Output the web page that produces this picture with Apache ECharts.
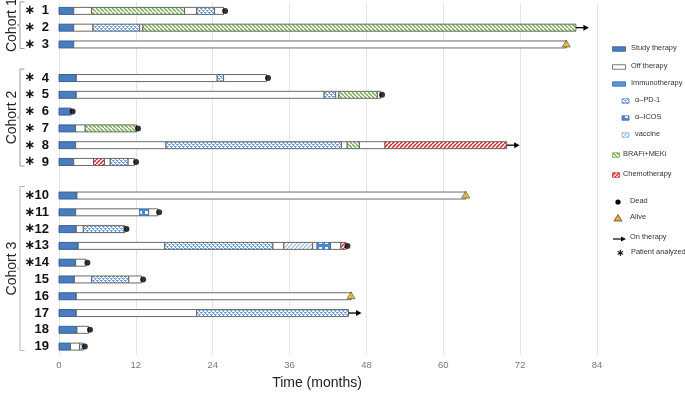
<!DOCTYPE html>
<html><head><meta charset="utf-8">
<script src="https://cdn.jsdelivr.net/npm/echarts@6/dist/echarts.min.js"></script>
<style>html,body{margin:0;padding:0;background:#fff}#c{width:685px;height:395px}</style>
</head><body><div id="c"></div>
<script>
// ---------- DATA ----------
const categories = ['1','2','3','gapA','4','5','6','7','8','9','gapB','10','11','12','13','14','15','16','17','18','19'];
const analyzed = ['1','2','3','4','5','6','7','8','9','10','11','12','13','14'];
const patients = ['1','2','3','4','5','6','7','8','9','10','11','12','13','14','15','16','17','18','19'];
// S=study therapy, O=off therapy, P=α-PD-1, I=α-ICOS, V=vaccine, B=BRAFi+MEKi, C=chemotherapy
const breaks = [
  [0,2.3,5.1,19.6,21.5,24.3,25.7],
  [0,2.3,5.3,12.6,13.1,80.7],
  [0,2.3,79.2],
  [0,2.7,24.7,25.7,32.4],
  [0,2.7,41.4,43.2,43.7,49.7,50.2],
  [0,1.9],
  [0,2.6,4.1,12.1],
  [0,2.6,16.7,44.1,45.0,46.9,50.9,69.9],
  [0,2.3,5.4,7.1,8.0,10.8,11.8],
  [0,2.8,63.5],
  [0,2.6,12.6,14.0,15.4],
  [0,2.7,3.8,10.3],
  [0,3.0,16.5,33.4,35.1,39.6,40.3,42.4,44.0,44.8],
  [0,2.6,4.2],
  [0,2.4,5.1,10.9,12.9],
  [0,2.7,45.6],
  [0,2.7,21.5,45.2],
  [0,2.8,4.6],
  [0,1.8,3.2,3.8]
];
const kinds = [
  ['S','O','B','O','P','O'],
  ['S','O','P','O','B'],
  ['S','O'],
  ['S','O','P','O'],
  ['S','O','P','O','B','O'],
  ['S'],
  ['S','O','B'],
  ['S','O','P','O','B','O','C'],
  ['S','O','C','O','P','O'],
  ['S','O'],
  ['S','O','I','O'],
  ['S','O','P'],
  ['S','O','P','O','V','O','I','O','C'],
  ['S','O'],
  ['S','O','P','O'],
  ['S','O'],
  ['S','O','P'],
  ['S','O'],
  ['S','O','P']
];
const outcomes = ['dead','on','alive','dead','dead','dead','dead','on','dead','alive','dead','dead','dead','dead','dead','alive','on','dead','dead'];
const cohortNames = ['Cohort 1','Cohort 2','Cohort 3'];
const cohortFirst = ['1','4','10'];
const cohortLast = ['3','9','19'];
const xMin = 0, xMax = 84, xStep = 12;

// ---------- PATTERNS ----------
function tile(w, h, draw){ const c=document.createElement('canvas'); c.width=w; c.height=h; const g=c.getContext('2d'); draw(g,w,h); return {image:c, repeat:'repeat'}; }
function diag(color, bg, dir, lw, n){
  return tile(n,n,(g,w,h)=>{ g.fillStyle=bg; g.fillRect(0,0,w,h); g.strokeStyle=color; g.lineWidth=lw;
    for(const x0 of [-n,0,n]){ g.beginPath(); if(dir>0){g.moveTo(x0,n);g.lineTo(x0+n,0);}else{g.moveTo(x0,0);g.lineTo(x0+n,n);} g.stroke(); } });
}
const fills = {
  S: '#4a7cc0',
  O: '#ffffff',
  P: tile(4,4,(g)=>{ g.fillStyle='#ffffff'; g.fillRect(0,0,4,4); g.fillStyle='#6a9fdc'; g.fillRect(0,0,2,1); g.fillRect(1,1,1,1); g.fillRect(2,2,2,1); g.fillRect(3,3,1,1); g.fillStyle='#a3c4ec'; g.fillRect(0,2,1,1); g.fillRect(2,0,1,1);}),
  I: tile(6,6,(g)=>{ g.fillStyle='#4f88cf'; g.fillRect(0,0,6,6); g.fillStyle='#ffffff'; g.fillRect(1,1,3,3); }),
  V: diag('#8fb6e4','#ffffff',1,1.1,4),
  B: diag('#72ad4a','#ffffff',-1,1.3,4),
  C: diag('#d82424','#ffffff',1,1.5,4)
};
const strokes = { S:'#2f5a8f', O:'#5a5a5a', P:'#5a5a5a', I:'#3d6fae', V:'#5a5a5a', B:'#5a5a5a', C:'#5a5a5a' };

// ---------- BUILD SERIES DATA ----------
const segData = [], deadData = [], aliveData = [], onData = [];
patients.forEach((p, i) => {
  const row = categories.indexOf(p);
  const b = breaks[i], k = kinds[i];
  for (let j = 0; j < k.length; j++) segData.push([row, b[j], b[j+1], k[j]]);
  const end = b[b.length-1];
  if (outcomes[i]==='dead') deadData.push([end, row]);
  else if (outcomes[i]==='alive') aliveData.push([end, row]);
  else onData.push([end, row]);
});
const bracketData = cohortNames.map((n, i) => [categories.indexOf(cohortFirst[i]), categories.indexOf(cohortLast[i]), i]);

const chart = echarts.init(document.getElementById('c'), null, {renderer:'canvas'});
const FONT = 'Liberation Sans, Arial, Helvetica, sans-serif';

const legendItems = [];
function lgText(x, y, t){ legendItems.push({type:'text', left:x, top:y-4.5, style:{text:t, font:'7.4px '+FONT, fill:'#333'}}); }
function lgRect(x, y, w, h, fill, stroke){ legendItems.push({type:'rect', shape:{x:x, y:y-h/2, width:w, height:h}, style:{fill:fill, stroke:stroke, lineWidth:0.8}}); }
lgRect(612.5,49,13,4.5,fills.S,strokes.S); lgText(631,49,'Study therapy');
lgRect(612.5,67,13,4.5,fills.O,'#555'); lgText(631,67,'Off therapy');
lgRect(612.5,84,13,4.5,'#5a93d6','#3f6fae'); lgText(631,84,'Immunotherapy');
lgRect(622,101,7,4.5,fills.P,'#4f88cf'); lgText(635,101,'α–PD-1');
lgRect(622,118,7,4.5,fills.I,'#3d6fae'); lgText(635,118,'α–ICOS');
lgRect(622,135,7,4.5,fills.V,'#8fb6e4'); lgText(635,135,'vaccine');
lgRect(612.5,155,7,4.5,fills.B,'#72ad4a'); lgText(623,155,'BRAFi+MEKi');
lgRect(612.5,175,7,4.5,fills.C,'#d82424'); lgText(623,175,'Chemotherapy');
legendItems.push({type:'circle', shape:{cx:618, cy:202, r:2.6}, style:{fill:'#000'}}); lgText(630,202,'Dead');
legendItems.push({type:'polygon', shape:{points:[[618,214.5],[614,221],[622,221]]}, style:{fill:'#f2b01e', stroke:'#333', lineWidth:0.7}}); lgText(630,218,'Alive');
legendItems.push({type:'line', shape:{x1:613, y1:239, x2:622, y2:239}, style:{stroke:'#000', lineWidth:1.2}});
legendItems.push({type:'polygon', shape:{points:[[626,239],[621,236.5],[621,241.5]]}, style:{fill:'#000'}}); lgText(630,238,'On therapy');
legendItems.push({type:'text', left:616, top:248, style:{text:'∗', font:'bold 10px DejaVu Sans', fill:'#111'}}); lgText(631,253,'Patient analyzed');

chart.setOption({
  animation:false,
  grid:{left:59, right:88, top:2.5, bottom:35.5, containLabel:false},
  xAxis:{type:'value', min:xMin, max:xMax, interval:xStep,
    axisLine:{show:false}, axisTick:{show:false},
    axisLabel:{color:'#777', fontSize:9.5, fontFamily:FONT, margin:5},
    splitLine:{show:true, lineStyle:{color:'#e4e4e4', width:1}},
    name:'Time (months)', nameLocation:'middle', nameGap:21,
    nameTextStyle:{fontSize:14, color:'#222', fontFamily:FONT, padding:[0,22,0,0]}},
  yAxis:{type:'category', data:categories, inverse:true,
    axisLine:{show:false}, axisTick:{show:false}, splitLine:{show:false},
    axisLabel:{margin:10, formatter:function(v){ if(v.indexOf('gap')===0) return ''; return (analyzed.indexOf(v)>=0 ? '{a|∗}' : '{a|}') + '{n|'+v+'}'; },
      rich:{a:{width:10, align:'center', fontFamily:'DejaVu Sans', fontWeight:'bold', fontSize:13, color:'#111'},
            n:{width:14, align:'right', fontFamily:FONT, fontWeight:'bold', fontSize:13, color:'#111'}}}},
  graphic: legendItems,
  series:[
    {type:'custom', name:'segments', data:segData, encode:{y:0, x:[1,2]}, z:3, clip:false,
      renderItem:function(params, api){
        const r = api.value(0), a = api.coord([api.value(1), r]), b = api.coord([api.value(2), r]);
        const k = segData[params.dataIndex][3]; const h = 7;
        return {type:'rect', shape:{x:a[0], y:a[1]-h/2, width:b[0]-a[0], height:h},
          style:{fill:fills[k], stroke:strokes[k], lineWidth:0.9}};
      }},
    {type:'scatter', name:'Dead', data:deadData, symbol:'circle', symbolSize:6, symbolOffset:[1.5,0], itemStyle:{color:'#000'}, z:5},
    {type:'scatter', name:'Alive', data:aliveData, symbol:'triangle', symbolSize:[8,7], symbolOffset:[0,-1], itemStyle:{color:'#f2b01e', borderColor:'#333', borderWidth:0.7}, z:5},
    {type:'custom', name:'On therapy', data:onData, encode:{x:0, y:1}, z:5, clip:false,
      renderItem:function(params, api){
        const p = api.coord([api.value(0), api.value(1)]);
        return {type:'group', children:[
          {type:'line', shape:{x1:p[0], y1:p[1], x2:p[0]+9, y2:p[1]}, style:{stroke:'#000', lineWidth:1.3}},
          {type:'polygon', shape:{points:[[p[0]+13,p[1]],[p[0]+7.5,p[1]-3],[p[0]+7.5,p[1]+3]]}, style:{fill:'#000'}}
        ]};
      }},
    {type:'custom', name:'cohorts', data:bracketData, encode:{y:[0,1]}, z:2, clip:false, silent:true,
      renderItem:function(params, api){
        const t = api.coord([0, api.value(0)]), bt = api.coord([0, api.value(1)]);
        const x = t[0]-39, y1 = t[1]-9, y2 = bt[1]+4, ym = (y1+y2)/2;
        const col = api.value(2)===2 ? '#b5b5b5' : '#999';
        return {type:'group', children:[
          {type:'polyline', shape:{points:[[x+4.5,y1],[x,y1],[x,ym-1],[x-2.5,ym],[x,ym+1],[x,y2],[x+4.5,y2]]}, style:{stroke:col, lineWidth:1, fill:null}},
          {type:'text', x:x-8, y:ym, rotation:Math.PI/2, style:{text:cohortNames[api.value(2)], font:'14px '+FONT, fill:'#222', textAlign:'center', textVerticalAlign:'middle'}}
        ]};
      }}
  ]
});
</script></body></html>
